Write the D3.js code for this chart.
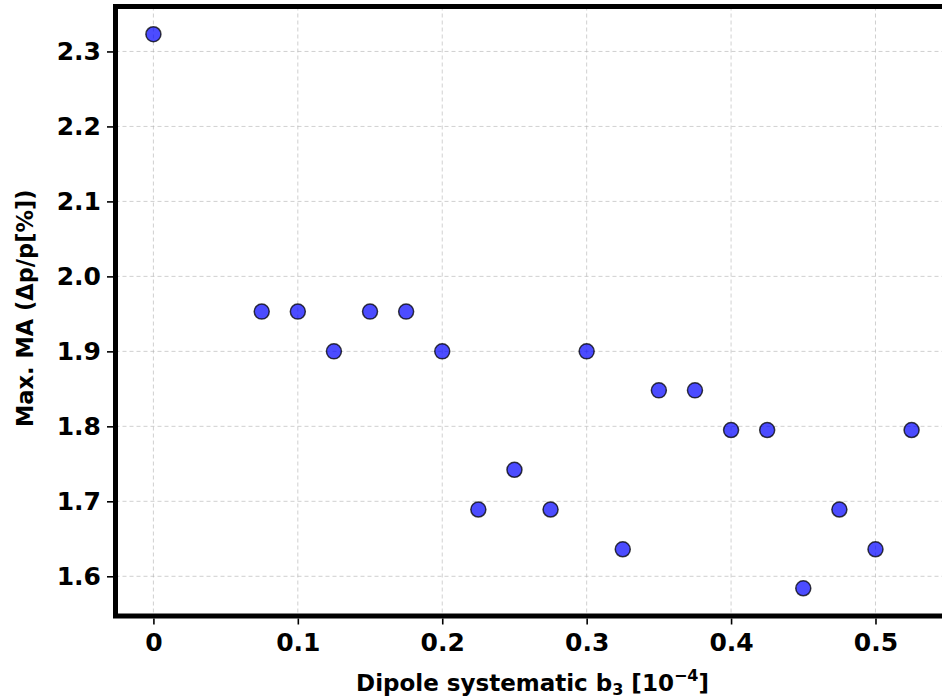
<!DOCTYPE html>
<html>
<head>
<meta charset="utf-8">
<script src="https://cdn.jsdelivr.net/npm/d3@7"></script>
<style>
  html, body { margin: 0; padding: 0; background: #fff; }
  svg { display: block; }
  text { font-family: "DejaVu Sans", sans-serif; font-weight: bold; fill: #000; }
</style>
</head>
<body>
<svg id="chart" width="942" height="700"></svg>
<script>
// Dipole systematic b3 (units of 1e-4)
const b3Values = [0, 0.075, 0.1, 0.125, 0.15, 0.175, 0.2, 0.225, 0.25, 0.275,
                  0.3, 0.325, 0.35, 0.375, 0.4, 0.425, 0.45, 0.475, 0.5, 0.525];
// Maximum momentum acceptance, Δp/p in %
const maxMA = [2.323, 1.953, 1.953, 1.900, 1.953, 1.953, 1.900, 1.689, 1.742, 1.689,
               1.900, 1.636, 1.848, 1.848, 1.795, 1.795, 1.584, 1.689, 1.636, 1.795];
const xTickValues = [0, 0.1, 0.2, 0.3, 0.4, 0.5];
const xTickLabels = ["0", "0.1", "0.2", "0.3", "0.4", "0.5"];
const yTickValues = [1.6, 1.7, 1.8, 1.9, 2.0, 2.1, 2.2, 2.3];
const yTickLabels = ["1.6", "1.7", "1.8", "1.9", "2.0", "2.1", "2.2", "2.3"];

const points = b3Values.map((x, i) => ({ x, y: maxMA[i] }));

const svg = d3.select("#chart");
const plot = { left: 115.5, right: 949.5, top: 6.5, bottom: 616 };

// 5% padding around the data extent on both axes
const xExt = d3.extent(b3Values), yExt = d3.extent(maxMA);
const xPad = (xExt[1] - xExt[0]) * 0.05, yPad = (yExt[1] - yExt[0]) * 0.05;

const x = d3.scaleLinear().domain([xExt[0] - xPad, xExt[1] + xPad]).range([plot.left, plot.right]);
const y = d3.scaleLinear().domain([yExt[0] - yPad, yExt[1] + yPad]).range([plot.bottom, plot.top]);

// dashed grid
const grid = svg.append("g").attr("stroke", "#b0b0b0").attr("stroke-opacity", 0.6)
  .attr("stroke-width", 1).attr("stroke-dasharray", "4,3");
grid.selectAll(".gx").data(xTickValues).join("line")
  .attr("x1", d => x(d)).attr("x2", d => x(d))
  .attr("y1", plot.top).attr("y2", plot.bottom);
grid.selectAll(".gy").data(yTickValues).join("line")
  .attr("y1", d => y(d)).attr("y2", d => y(d))
  .attr("x1", plot.left).attr("x2", plot.right);

// axes
const xAxis = d3.axisBottom(x).tickValues(xTickValues)
  .tickFormat((d, i) => xTickLabels[i]).tickSize(6).tickPadding(9);
const yAxis = d3.axisLeft(y).tickValues(yTickValues)
  .tickFormat((d, i) => yTickLabels[i]).tickSize(6).tickPadding(6);

const gx = svg.append("g").attr("transform", `translate(0,${plot.bottom + 2.5})`).call(xAxis);
const gy = svg.append("g").attr("transform", `translate(${plot.left - 2.5},0)`).call(yAxis);
[gx, gy].forEach(g => {
  g.select(".domain").remove();
  g.selectAll(".tick line").attr("stroke", "#000").attr("stroke-width", 1.6);
  g.selectAll(".tick text").attr("font-size", 25).attr("font-weight", "bold")
    .attr("font-family", "DejaVu Sans, sans-serif").attr("fill", "#000");
});

// scatter points
svg.append("g").selectAll("circle").data(points).join("circle")
  .attr("cx", d => x(d.x)).attr("cy", d => y(d.y)).attr("r", 7.5)
  .attr("fill", "#0000ff").attr("fill-opacity", 0.7)
  .attr("stroke", "#000").attr("stroke-opacity", 0.75).attr("stroke-width", 1.5);

// thick frame
svg.append("rect")
  .attr("x", plot.left).attr("y", plot.top)
  .attr("width", plot.right - plot.left).attr("height", plot.bottom - plot.top)
  .attr("fill", "none").attr("stroke", "#000").attr("stroke-width", 5);

// axis titles
const xTitle = svg.append("text")
  .attr("x", (plot.left + plot.right) / 2).attr("y", 691)
  .attr("text-anchor", "middle").attr("font-size", 23);
xTitle.append("tspan").text("Dipole systematic b");
xTitle.append("tspan").attr("font-size", 16).attr("dy", 4).text("3");
xTitle.append("tspan").attr("dy", -4).text(" [10");
xTitle.append("tspan").attr("font-size", 16).attr("dy", -10).text("\u22124");
xTitle.append("tspan").attr("dy", 10).text("]");

svg.append("text")
  .attr("transform", `translate(33,${(plot.top + plot.bottom) / 2 - 3}) rotate(-90)`)
  .attr("text-anchor", "middle").attr("font-size", 22.5)
  .text("Max. MA (\u0394p/p[%])");
</script>
</body>
</html>
